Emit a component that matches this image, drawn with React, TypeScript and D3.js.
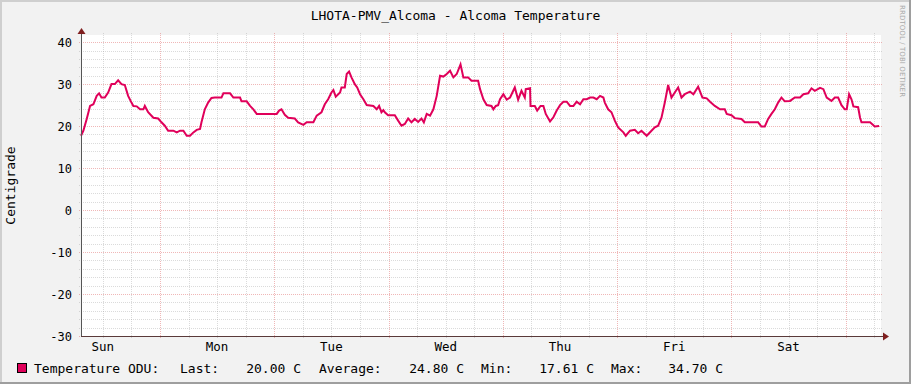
import React, { useRef, useEffect } from 'react';
import * as d3 from 'd3';

// hours since the left edge of the graph (Sun ~07:25) and temperature in C
const hours = [
  0.0, 0.5, 1.2, 1.9, 2.6, 3.3, 3.8, 4.3, 5.0, 5.7, 6.4, 7.1, 7.8, 8.5, 9.2, 9.9,
  10.6, 11.0, 11.7, 12.4, 13.1, 13.4, 14.1, 15.2, 16.2, 16.9, 17.6, 18.3, 19.4,
  20.1, 20.8, 21.5, 22.2, 22.9, 23.6, 24.3, 25.0, 25.3, 26.0, 26.7, 27.4, 28.1,
  29.5, 29.9, 31.3, 32.0, 33.4, 33.7, 34.8, 35.5, 36.2, 36.9, 37.9, 41.1, 41.6,
  42.1, 42.8, 43.5, 44.9, 45.6, 46.7, 47.4, 48.8, 49.5, 50.5, 51.2, 51.9, 52.6,
  53.0, 53.5, 54.4, 54.7, 55.4, 55.8, 56.3, 56.8, 57.5, 58.0, 58.6, 59.3, 60.0,
  61.4, 62.1, 62.6, 63.1, 63.5, 63.8, 64.5, 65.9, 66.6, 67.3, 68.0, 68.7, 69.4,
  70.1, 70.8, 71.5, 72.0, 72.6, 73.3, 74.0, 74.7, 75.4, 76.1, 76.8, 77.5, 78.2,
  78.9, 79.7, 80.3, 81.3, 82.0, 83.4, 83.8, 84.5, 85.2, 86.2, 86.6, 87.1, 87.6,
  88.0, 88.7, 89.4, 90.1, 91.1, 91.8, 92.5, 93.2, 93.4, 94.3, 94.4, 95.3, 95.8,
  96.5, 97.1, 97.6, 98.5, 99.2, 99.9, 100.6, 101.3, 102.0, 102.7, 103.4, 104.1,
  104.8, 105.5, 106.2, 106.9, 107.6, 108.3, 109.0, 109.7, 110.0, 110.7, 111.4,
  112.1, 112.8, 113.9, 114.4, 115.3, 116.3, 117.0, 117.7, 118.8, 119.8, 120.5,
  121.2, 121.9, 122.6, 123.3, 124.0, 124.7, 125.4, 126.1, 126.8, 127.9, 128.6,
  129.6, 130.5, 131.4, 132.1, 133.1, 134.2, 135.2, 135.6, 136.6, 137.3, 138.7,
  139.4, 142.2, 142.9, 143.6, 144.3, 145.0, 145.7, 146.4, 147.1, 147.8, 148.9,
  149.9, 151.0, 151.7, 152.7, 153.4, 154.1, 155.2, 155.9, 156.6, 157.6, 158.3,
  159.0, 159.7, 160.4, 160.8, 161.3, 161.8, 162.2, 163.2, 163.6, 163.9, 165.7,
  166.7, 167.6,
];

const temps = [
  17.7, 18.9, 21.7, 24.8, 25.2, 27.2, 27.8, 26.8, 26.8, 28.0, 30.0, 30.0, 30.9,
  30.0, 29.8, 27.2, 25.6, 24.8, 24.7, 24.0, 24.0, 24.8, 23.3, 22.0, 21.8, 20.9,
  20.1, 18.9, 18.9, 18.5, 18.9, 18.9, 17.7, 17.7, 18.5, 19.1, 19.3, 20.9, 24.0,
  25.6, 26.7, 26.8, 26.8, 27.8, 27.8, 26.8, 26.8, 25.9, 25.9, 24.8, 24.0, 22.9,
  22.9, 22.9, 23.7, 24.0, 22.7, 22.0, 21.8, 20.9, 20.3, 20.9, 20.9, 22.5, 23.3,
  25.2, 26.4, 28.0, 28.6, 27.0, 28.0, 29.2, 29.2, 32.4, 33.0, 31.6, 30.0, 29.2,
  27.6, 26.4, 25.0, 24.8, 24.0, 24.8, 23.3, 23.8, 23.3, 22.6, 22.6, 21.3, 20.1,
  20.5, 21.8, 20.9, 21.7, 21.0, 21.8, 20.9, 22.9, 22.5, 24.0, 27.2, 32.0, 31.8,
  32.4, 33.2, 31.6, 32.4, 34.7, 31.6, 31.6, 30.8, 30.8, 28.8, 26.4, 25.0, 24.8,
  24.0, 24.8, 25.0, 26.4, 27.6, 26.3, 26.8, 29.2, 26.3, 28.4, 26.8, 28.8, 29.0,
  24.8, 24.8, 23.7, 24.8, 24.8, 22.9, 21.1, 22.1, 23.7, 25.0, 25.8, 25.8, 24.8,
  24.8, 25.8, 25.2, 26.4, 26.4, 26.8, 26.8, 26.4, 27.2, 26.8, 25.6, 24.0, 23.3,
  21.3, 19.7, 18.5, 17.7, 18.9, 19.1, 18.3, 18.9, 17.7, 18.9, 19.7, 20.1, 22.0,
  25.6, 29.8, 26.8, 28.0, 29.2, 26.8, 27.6, 28.2, 27.6, 29.4, 26.8, 26.6, 25.8,
  24.8, 24.0, 24.0, 22.9, 22.6, 21.9, 21.7, 20.9, 20.9, 19.9, 19.9, 21.7, 22.9,
  24.0, 25.6, 26.8, 25.9, 26.0, 26.8, 26.8, 27.6, 27.8, 29.0, 28.4, 29.1, 28.8,
  26.8, 26.0, 26.8, 26.8, 25.0, 24.0, 24.0, 27.6, 26.4, 24.7, 24.5, 22.0, 20.9,
  20.9, 19.9, 20.0,
];

const yTicks = [-30, -20, -10, 0, 10, 20, 30, 40];
const legendName = 'Temperature ODU:';
const legendStats = [
  { label: 'Last:', value: '20.00 C' },
  { label: 'Average:', value: '24.80 C' },
  { label: 'Min:', value: '17.61 C' },
  { label: 'Max:', value: '34.70 C' },
];
const title = 'LHOTA-PMV_Alcoma - Alcoma Temperature';
const yTitle = 'Centigrade';
const watermark = 'RRDTOOL / TOBI OETIKER';

const start = new Date(Date.UTC(2021, 2, 7, 7, 25));
const end = new Date(+start + 168 * 3600e3);

const MONO = '"DejaVu Sans Mono", monospace';
const LINE = '#e0005a';

const App = () => {
  const ref = useRef<SVGSVGElement | null>(null);

  const width = 911;
  const height = 384;

  useEffect(() => {
    if (!ref.current) return;
    const margin = { top: 35, right: 30, bottom: 48, left: 81 };

    const x = d3
      .scaleUtc()
      .domain([start, end])
      .range([margin.left, width - margin.right]);
    const y = d3
      .scaleLinear()
      .domain([-30, 41.7])
      .range([height - margin.bottom, margin.top]);

    const x0 = margin.left;
    const x1 = width - margin.right;
    const y0 = height - margin.bottom;
    const y1 = margin.top;

    const svg = d3.select(ref.current);
    svg.selectAll('*').remove();

    // background + shading
    svg.append('rect').attr('width', width).attr('height', height).attr('fill', '#f2f2f2');
    svg.append('path').attr('d', `M0,${height}V0H${width}`).attr('fill', 'none')
      .attr('stroke', '#cfcfcf').attr('stroke-width', 4);
    svg.append('path').attr('d', `M0,${height}H${width}V0`).attr('fill', 'none')
      .attr('stroke', '#9e9e9e').attr('stroke-width', 4);

    svg.append('rect').attr('x', x0).attr('y', y1)
      .attr('width', x1 - x0).attr('height', y0 - y1).attr('fill', '#fff');

    const grid = svg.append('g').attr('shape-rendering', 'crispEdges');
    const minorColor = 'rgba(143,143,143,0.32)';
    const majorColor = 'rgba(222,95,95,0.45)';

    // minor grid
    const minorX = d3.utcHour.every(6)!.range(start, end).filter((d) => d.getUTCHours() !== 0);
    const minorY = d3.range(-30, 41, 2).filter((v) => v % 10 !== 0);
    grid.selectAll('.mx').data(minorX).join('line')
      .attr('x1', (d) => Math.round(x(d)) + 0.5).attr('x2', (d) => Math.round(x(d)) + 0.5)
      .attr('y1', y1 - 2).attr('y2', y0 + 2)
      .attr('stroke', minorColor).attr('stroke-dasharray', '1,1');
    grid.selectAll('.my').data(minorY).join('line')
      .attr('y1', (d) => Math.round(y(d)) + 0.5).attr('y2', (d) => Math.round(y(d)) + 0.5)
      .attr('x1', x0 - 2).attr('x2', x1 + 2)
      .attr('stroke', minorColor).attr('stroke-dasharray', '1,1');

    // major grid
    const majorX = d3.utcDay.range(start, end);
    grid.selectAll('.Mx').data(majorX).join('line')
      .attr('x1', (d) => Math.round(x(d)) + 0.5).attr('x2', (d) => Math.round(x(d)) + 0.5)
      .attr('y1', y1 - 2).attr('y2', y0 + 2)
      .attr('stroke', majorColor).attr('stroke-dasharray', '1,1');
    grid.selectAll('.My').data(yTicks).join('line')
      .attr('y1', (d) => Math.round(y(d)) + 0.5).attr('y2', (d) => Math.round(y(d)) + 0.5)
      .attr('x1', x0 - 2).attr('x2', x1 + 2)
      .attr('stroke', majorColor).attr('stroke-dasharray', '1,1');

    // data line
    const line = d3
      .line<number>()
      .x((_, i) => x(new Date(+start + hours[i] * 3600e3)))
      .y((d) => y(d));
    svg.append('path').datum(temps).attr('d', line)
      .attr('fill', 'none').attr('stroke', LINE).attr('stroke-width', 2)
      .attr('stroke-linejoin', 'miter');

    // axes + arrows
    svg.append('line').attr('x1', x0 + 0.5).attr('x2', x0 + 0.5)
      .attr('y1', y0).attr('y2', y1 - 3).attr('stroke', '#555').attr('shape-rendering', 'crispEdges');
    svg.append('line').attr('x1', x0).attr('x2', x1 + 4)
      .attr('y1', y0 + 0.5).attr('y2', y0 + 0.5).attr('stroke', '#5a3a3a').attr('shape-rendering', 'crispEdges');
    svg.append('path').attr('d', `M${x0 - 3.5},${y1 - 1}L${x0 + 0.5},${y1 - 7}L${x0 + 4.5},${y1 - 1}Z`)
      .attr('fill', '#7f1f1f');
    svg.append('path').attr('d', `M${x1 + 2},${y0 - 3.5}L${x1 + 8},${y0 + 0.5}L${x1 + 2},${y0 + 4.5}Z`)
      .attr('fill', '#7f1f1f');

    // y labels
    svg.append('g').selectAll('text').data(yTicks).join('text')
      .attr('x', x0 - 9).attr('y', (d) => y(d) + 4.5)
      .attr('text-anchor', 'end').attr('font-family', MONO).attr('font-size', 12)
      .attr('fill', '#000').text((d) => String(d));

    // day labels at noon
    const noons = d3.utcDay.range(d3.utcDay.floor(start), end)
      .map((d) => d3.utcHour.offset(d, 12))
      .filter((d) => d >= start && d <= end);
    svg.append('g').selectAll('text').data(noons).join('text')
      .attr('x', (d) => x(d)).attr('y', 351)
      .attr('text-anchor', 'middle').attr('font-family', MONO).attr('font-size', 12.5)
      .attr('fill', '#000').text((d) => d3.utcFormat('%a')(d));

    // titles
    svg.append('text').attr('x', width / 2).attr('y', 19.5).attr('text-anchor', 'middle')
      .attr('font-family', MONO).attr('font-size', 13).text(title);
    svg.append('text').attr('transform', `translate(15,${(y0 + y1) / 2}) rotate(-90)`)
      .attr('text-anchor', 'middle').attr('font-family', MONO).attr('font-size', 13).text(yTitle);
    svg.append('text').attr('transform', 'translate(900,5) rotate(90)')
      .attr('font-family', '"DejaVu Sans", sans-serif').attr('font-size', 7)
      .attr('textLength', 92).attr('lengthAdjust', 'spacing')
      .attr('fill', '#a8a8a8').text(watermark);

    // legend
    svg.append('rect').attr('x', 17.5).attr('y', 363.5).attr('width', 9).attr('height', 9)
      .attr('fill', LINE).attr('stroke', '#000');
    const lg = svg.append('g').attr('font-family', MONO).attr('font-size', 13);
    lg.append('text').attr('x', 34).attr('y', 372.5).text(legendName);
    const labelX = [180, 319, 481, 611];
    const valueEnd = [301, 464, 594, 723];
    legendStats.forEach((s, i) => {
      lg.append('text').attr('x', labelX[i]).attr('y', 372.5).text(s.label);
      lg.append('text').attr('x', valueEnd[i]).attr('y', 372.5)
        .attr('text-anchor', 'end').text(s.value);
    });
  });

  return (
    <svg
      ref={(el) => (ref.current = el)}
      width={width}
      height={height}
      viewBox={`0 0 ${width} ${height}`}
      style={{ position: 'absolute', left: 0, top: 0, display: 'block' }}
    />
  );
};

export default App;
